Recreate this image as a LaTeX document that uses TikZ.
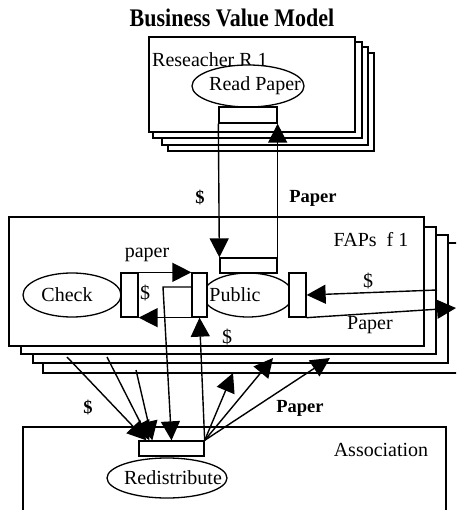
\documentclass[tikz,border=0pt]{standalone}
\usepackage{fontspec}
\setmainfont{Liberation Serif}
\usetikzlibrary{arrows.meta,shapes.geometric,calc}

\tikzset{
  box/.style={draw, line width=1.5pt, fill=white},
  proc/.style={draw, ellipse, line width=1.3pt, fill=white, inner sep=0pt},
  port/.style={draw, rectangle, line width=1.3pt, fill=white, inner sep=0pt},
  conn/.style={line width=1.4pt},
  arr/.style={conn, -{Triangle[length=19pt,width=19pt]}},
  lbl/.style={inner sep=0pt, font=\fontsize{20}{22}\selectfont},
  blbl/.style={inner sep=0pt, font=\bfseries\fontsize{18.5}{20}\selectfont},
}

\begin{document}
\begin{tikzpicture}[x=1pt,y=-1pt]
\useasboundingbox (0,0) rectangle (456,510);
\clip (0,0) rectangle (456,510);

% title
\node[inner sep=0pt, font=\bfseries\fontsize{22}{24}\selectfont] (title) at (232,18)
  {\scalebox{1}[1.15]{Business Value Model}};

% researcher stack
\draw[box] (168,53) rectangle (374,151);
\draw[box] (162,47) rectangle (368,145);
\draw[box] (153,42) rectangle (362,138);
\draw[box] (149,37) rectangle (355,132);
\node[lbl, anchor=west] (res) at (152,60) {Reseacher R 1};
\node[proc, minimum width=112pt, minimum height=42pt] (read) at (248,86) {};
\node[lbl] (readtxt) at (255,86) {Read Paper};
\node[port, minimum width=58pt, minimum height=16pt] (rpP) at (248,115) {};

% FAPs stack
\draw[box] (43,243) rectangle (462,373);
\draw[box] (33,235) rectangle (448,363);
\draw[box] (21,227) rectangle (436,354);
\draw[box] (9,217) rectangle (424,346);
\node[lbl] (faps) at (371,240) {FAPs\ \ f 1};

\node[proc, minimum width=98pt, minimum height=44pt] (check) at (72,295) {};
\node[lbl] (checktxt) at (67,295) {Check};
\node[port, minimum width=17pt, minimum height=44pt] (chkP) at (129.5,295) {};

\node[proc, minimum width=90pt, minimum height=44pt] (public) at (248,295) {};
\node[lbl] (pubtxt) at (235,295) {Public};
\node[port, minimum width=15pt, minimum height=44pt] (pubL) at (199.5,295) {};
\node[port, minimum width=17pt, minimum height=44pt] (pubR) at (297.5,295) {};
\node[port, minimum width=57pt, minimum height=15pt] (pubT) at (248.5,265.5) {};

% association
\draw[box] (23,427) rectangle (446,520);
\node[lbl] (assoc) at (381,450) {Association};
\node[proc, minimum width=120pt, minimum height=40pt] (redis) at (167,478) {};
\node[lbl] (redistxt) at (173,478) {Redistribute};
\node[port, minimum width=65pt, minimum height=15pt] (redP) at (171.5,448.5) {};

% researcher <-> public
\draw[arr] (rpP.south west) -- (pubT.north west);
\draw[arr] (pubT.north east) -- (rpP.south east);
\node[blbl] (d1) at (200,198) {\$};
\node[blbl] (p1) at (313,198) {Paper};

% check <-> public
\draw[arr] (chkP.north east) -- (pubL.north west);
\draw[arr] (pubL.south west) -- (chkP.south east);
\node[lbl] (pp) at (147,255) {paper};
\node[lbl] (d2) at (145,293) {\$};

% public <-> other FAPs
\coordinate (fin) at (437,290);
\coordinate (fout) at (456,308);
\draw[arr] (fin) -- (pubR.east);
\draw[arr] (pubR.south east) -- (fout);
\node[lbl] (d3) at (368,281) {\$};
\node[lbl] (p3) at (370,325) {Paper};

% public <-> association
\coordinate (pl1) at ([yshift=8pt]pubL.west);
\coordinate (pl2) at (163,287);
\draw[arr] (pl1) -- (pl2) -- (redP.north);
\draw[arr] (redP.north east) -- (pubL.south);
\node[lbl] (d4) at (227,337) {\$};

% other FAPs -> association
\coordinate (s1) at (67,357);
\coordinate (s2) at (107,357);
\coordinate (s3) at (136,370);
\draw[arr] (s1) -- ([xshift=8pt]redP.north west);
\draw[arr] (s2) -- ([xshift=11pt]redP.north west);
\draw[arr] (s3) -- ([xshift=14pt]redP.north west);

% association -> other FAPs
\coordinate (t1) at (233,373);
\coordinate (t2) at (273,358);
\coordinate (t3) at (330,358);
\draw[arr] (redP.north east) -- (t1);
\draw[arr] (redP.north east) -- (t2);
\draw[arr] (redP.north east) -- (t3);

\node[blbl] (d5) at (88,408) {\$};
\node[blbl] (p5) at (300,408) {Paper};
\end{tikzpicture}
\end{document}
